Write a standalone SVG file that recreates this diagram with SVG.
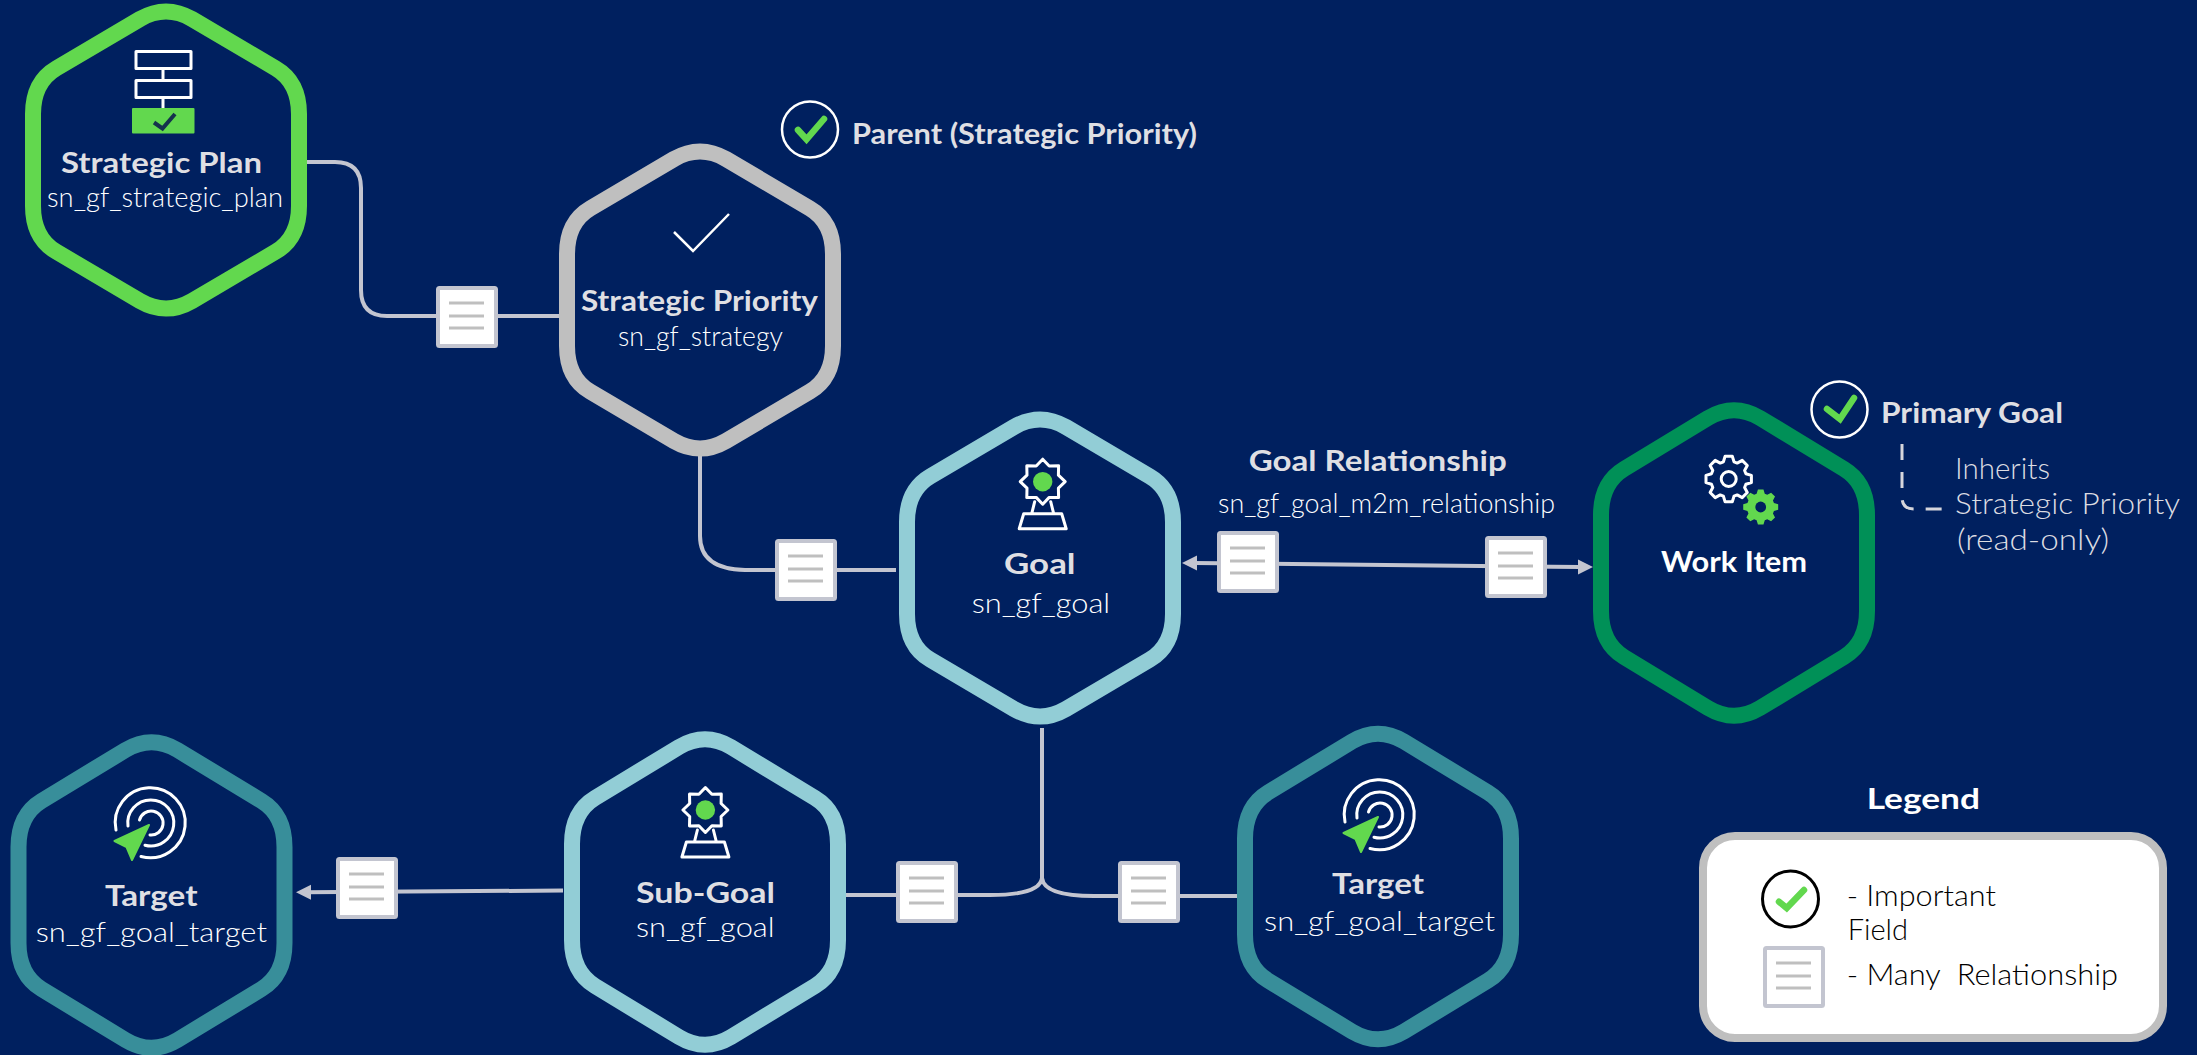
<svg xmlns="http://www.w3.org/2000/svg" width="2197" height="1055" viewBox="0 0 2197 1055">
<style>
text{font-family:Lato,"Open Sans","Liberation Sans",sans-serif}
.t{font-size:29px;font-weight:700;fill:#dfdfe3}
.w{font-size:29px;font-weight:700;fill:#fff}
.s{font-size:27px;font-weight:300;fill:#fff}
.n{font-size:29px;font-weight:300;fill:#dcdce2}
.k{font-size:30px;font-weight:300;fill:#000}
.hex{fill:none;stroke-width:16;stroke-linejoin:round}
.conn{fill:none;stroke:#c3c5d0;stroke-width:4}
.ic{fill:none;stroke:#fff;stroke-width:3;stroke-linejoin:round;stroke-linecap:round}
.chk{fill:none;stroke:#62d84e;stroke-width:6.5;stroke-linecap:round;stroke-linejoin:miter}
</style>
<defs>
<path id="hexA" d="M-26,-141 Q0,-156 26,-141 L109.7,-91.7 Q133,-78 133,-46 V46 Q133,78 109.7,91.7 L26,141 Q0,156 -26,141 L-109.7,91.7 Q-133,78 -133,46 V-46 Q-133,-78 -109.7,-91.7 Z"/>
<path id="hexB" d="M-26,-145 Q0,-160.5 26,-145 L110,-94 Q133,-80 133,-48 V48 Q133,80 110,94 L26,145 Q0,160.5 -26,145 L-110,94 Q-133,80 -133,48 V-48 Q-133,-80 -110,-94 Z"/>
<g id="doc">
<rect x="2" y="2" width="58" height="58" rx="1.5" fill="#fff" stroke="#c3c5d0" stroke-width="4"/>
<path d="M13,17H48M13,30H48M13,42H48" stroke="#bfbfbf" stroke-width="3" fill="none"/>
</g>
<g id="award">
<polygon class="ic" points="22.5,0 15.7,6.5 15.9,15.9 6.5,15.7 0,22.5 -6.5,15.7 -15.9,15.9 -15.7,6.5 -22.5,0 -15.7,-6.5 -15.9,-15.9 -6.5,-15.7 0,-22.5 6.5,-15.7 15.9,-15.9 15.7,-6.5"/>
<circle r="9.7" fill="#62d84e"/>
<path class="ic" d="M-8,20 L-11,32 M8,20 L11,32 M-19,32 H19 L23.5,47 H-23.5 Z"/>
</g>
<g id="target">
<path class="ic" d="M-35,7 A35,35 0 1 1 -10,33.5 M-23,3 A23,23 0 1 1 -6,22.2 M-11.5,-3 A12,12 0 1 1 -1,12"/>
<polygon points="-2,2 -36.5,18 -24.5,24 -19,37" fill="#62d84e" stroke="#62d84e" stroke-width="2" stroke-linejoin="round"/>
</g>
<polygon id="gear" points="17.2,-5.3 22.7,-3.6 22.7,3.6 17.2,5.3 15.9,8.5 18.6,13.5 13.5,18.6 8.5,15.9 5.3,17.2 3.6,22.7 -3.6,22.7 -5.3,17.2 -8.5,15.9 -13.5,18.6 -18.6,13.5 -15.9,8.5 -17.2,5.3 -22.7,3.6 -22.7,-3.6 -17.2,-5.3 -15.9,-8.5 -18.6,-13.5 -13.5,-18.6 -8.5,-15.9 -5.3,-17.2 -3.6,-22.7 3.6,-22.7 5.3,-17.2 8.5,-15.9 13.5,-18.6 18.6,-13.5 15.9,-8.5"/>
</defs>
<rect width="2197" height="1055" fill="#00205f"/>

<g id="connectors">
<path class="conn" d="M307,162 H335 Q361,162 361,188 V290 Q361,316 387,316 H560"/>
<path class="conn" d="M700,445 V536 Q700,569 745,570 H896"/>
<path class="conn" d="M1194,563 L1580,567"/>
<polygon points="1182,563 1197,555.5 1197,570.5" fill="#c3c5d0"/>
<polygon points="1593,567 1578,559.5 1578,574.5" fill="#c3c5d0"/>
<path class="conn" d="M563,890.5 L306,892.3"/>
<polygon points="296,892.3 311,884.8 311,899.8" fill="#c3c5d0"/>
<path class="conn" d="M1042,728 V878 Q1040,895 990,895 H846 M1042,878 Q1044,896 1094,896 H1238"/>
</g>
<g id="docs">
<use href="#doc" x="436" y="286"/>
<use href="#doc" x="775" y="539"/>
<use href="#doc" x="1217" y="531"/>
<use href="#doc" x="1485" y="536"/>
<use href="#doc" x="336" y="857"/>
<use href="#doc" x="896" y="861"/>
<use href="#doc" x="1118" y="861"/>
</g>

<g id="strategic-plan">
<use href="#hexA" x="166" y="160" class="hex" stroke="#62d84e"/>
<path class="ic" d="M163,69V79M163,99V108"/>
<rect class="ic" x="136" y="51.5" width="55" height="17"/>
<rect class="ic" x="136" y="80.5" width="55" height="17"/>
<rect x="132" y="108" width="62.5" height="25.5" rx="1" fill="#62d84e"/>
<path d="M154,122.5 L162.5,128.5 L175,114" fill="none" stroke="#15324d" stroke-width="4"/>
<text class="t" x="61" y="173" textLength="201" lengthAdjust="spacingAndGlyphs">Strategic Plan</text>
<text class="s" x="47" y="207" textLength="236" lengthAdjust="spacingAndGlyphs">sn_gf_strategic_plan</text>
</g>

<g id="strategic-priority">
<use href="#hexA" x="700" y="300" class="hex" stroke="#bfbfbf"/>
<path d="M674,232 L693,251 L729,214" fill="none" stroke="#fff" stroke-width="2.5"/>
<text class="t" x="581" y="311" textLength="237" lengthAdjust="spacingAndGlyphs">Strategic Priority</text>
<text class="s" x="618" y="346" textLength="165" lengthAdjust="spacingAndGlyphs">sn_gf_strategy</text>
</g>

<g id="parent-field">
<circle cx="810" cy="129.5" r="28" fill="none" stroke="#fff" stroke-width="2.5"/>
<path class="chk" d="M798,130 L806.5,139.3 L824,119"/>
<text class="t" x="852" y="144" textLength="345" lengthAdjust="spacingAndGlyphs">Parent (Strategic Priority)</text>
</g>

<g id="goal">
<use href="#hexA" x="1040" y="568" class="hex" stroke="#92cdd6"/>
<use href="#award" x="1042.7" y="481.7"/>
<text class="t" x="1004" y="574" textLength="71.5" lengthAdjust="spacingAndGlyphs">Goal</text>
<text class="s" x="971.7" y="613" textLength="138.5" lengthAdjust="spacingAndGlyphs">sn_gf_goal</text>
</g>

<g id="goal-relationship">
<text class="t" x="1248.7" y="471" textLength="258" lengthAdjust="spacingAndGlyphs">Goal Relationship</text>
<text class="s" x="1218" y="512.7" textLength="337" lengthAdjust="spacingAndGlyphs">sn_gf_goal_m2m_relationship</text>
</g>

<g id="work-item">
<use href="#hexB" x="1734" y="563" class="hex" stroke="#009057"/>
<use href="#gear" x="1728.7" y="479" class="ic"/>
<circle class="ic" cx="1728.7" cy="479" r="7.5"/>
<g transform="translate(1760.7 507) scale(.77)"><use href="#gear" fill="#62d84e"/><circle r="7" fill="#00205f"/></g>
<text class="w" x="1661" y="572" textLength="146" lengthAdjust="spacingAndGlyphs">Work Item</text>
</g>

<g id="primary-goal">
<circle cx="1839.5" cy="409.5" r="28" fill="none" stroke="#fff" stroke-width="2.5"/>
<path class="chk" d="M1827,409 L1840,419 L1854,398"/>
<text class="t" x="1881" y="422.7" textLength="182" lengthAdjust="spacingAndGlyphs">Primary Goal</text>
<path d="M1902,444 V497 Q1902,509 1914,509 H1943" fill="none" stroke="#d6d6dc" stroke-width="3" stroke-dasharray="16 12"/>
<text class="n" x="1955" y="479" textLength="95" lengthAdjust="spacingAndGlyphs">Inherits</text>
<text class="n" x="1955" y="514" textLength="225" lengthAdjust="spacingAndGlyphs">Strategic Priority</text>
<text class="n" x="1957" y="550" textLength="152" lengthAdjust="spacingAndGlyphs">(read-only)</text>
</g>

<g id="target-left">
<use href="#hexB" x="151.5" y="895" class="hex" stroke="#388e9a"/>
<use href="#target" x="151" y="823"/>
<text class="t" x="105" y="905.7" textLength="92.5" lengthAdjust="spacingAndGlyphs">Target</text>
<text class="s" x="35.7" y="941.7" textLength="231.3" lengthAdjust="spacingAndGlyphs">sn_gf_goal_target</text>
</g>

<g id="sub-goal">
<use href="#hexB" x="705" y="892" class="hex" stroke="#92cdd6"/>
<use href="#award" x="705.4" y="810"/>
<text class="t" x="636" y="903" textLength="139" lengthAdjust="spacingAndGlyphs">Sub-Goal</text>
<text class="s" x="636" y="937" textLength="138.6" lengthAdjust="spacingAndGlyphs">sn_gf_goal</text>
</g>

<g id="target-right">
<use href="#hexB" x="1378" y="886.5" class="hex" stroke="#388e9a"/>
<use href="#target" x="1380" y="815"/>
<text class="t" x="1332" y="894" textLength="92" lengthAdjust="spacingAndGlyphs">Target</text>
<text class="s" x="1264" y="930.7" textLength="231" lengthAdjust="spacingAndGlyphs">sn_gf_goal_target</text>
</g>

<g id="legend">
<text class="w" x="1866.7" y="809" textLength="113.3" lengthAdjust="spacingAndGlyphs">Legend</text>
<rect x="1703" y="836" width="460" height="202" rx="32" fill="#fff" stroke="#bfbfbf" stroke-width="8"/>
<circle cx="1790.5" cy="899" r="28" fill="none" stroke="#000" stroke-width="3"/>
<path class="chk" d="M1779,901.7 L1786.7,908 L1804,890"/>
<use href="#doc" x="1763" y="946"/>
<text class="k" x="1846.7" y="905.7" textLength="149.3" lengthAdjust="spacingAndGlyphs">- Important</text>
<text class="k" x="1847.7" y="940" textLength="60.3" lengthAdjust="spacingAndGlyphs">Field</text>
<text class="k" x="1846.7" y="984.7" textLength="271.3" lengthAdjust="spacingAndGlyphs" xml:space="preserve">- Many  Relationship</text>
</g>
</svg>
